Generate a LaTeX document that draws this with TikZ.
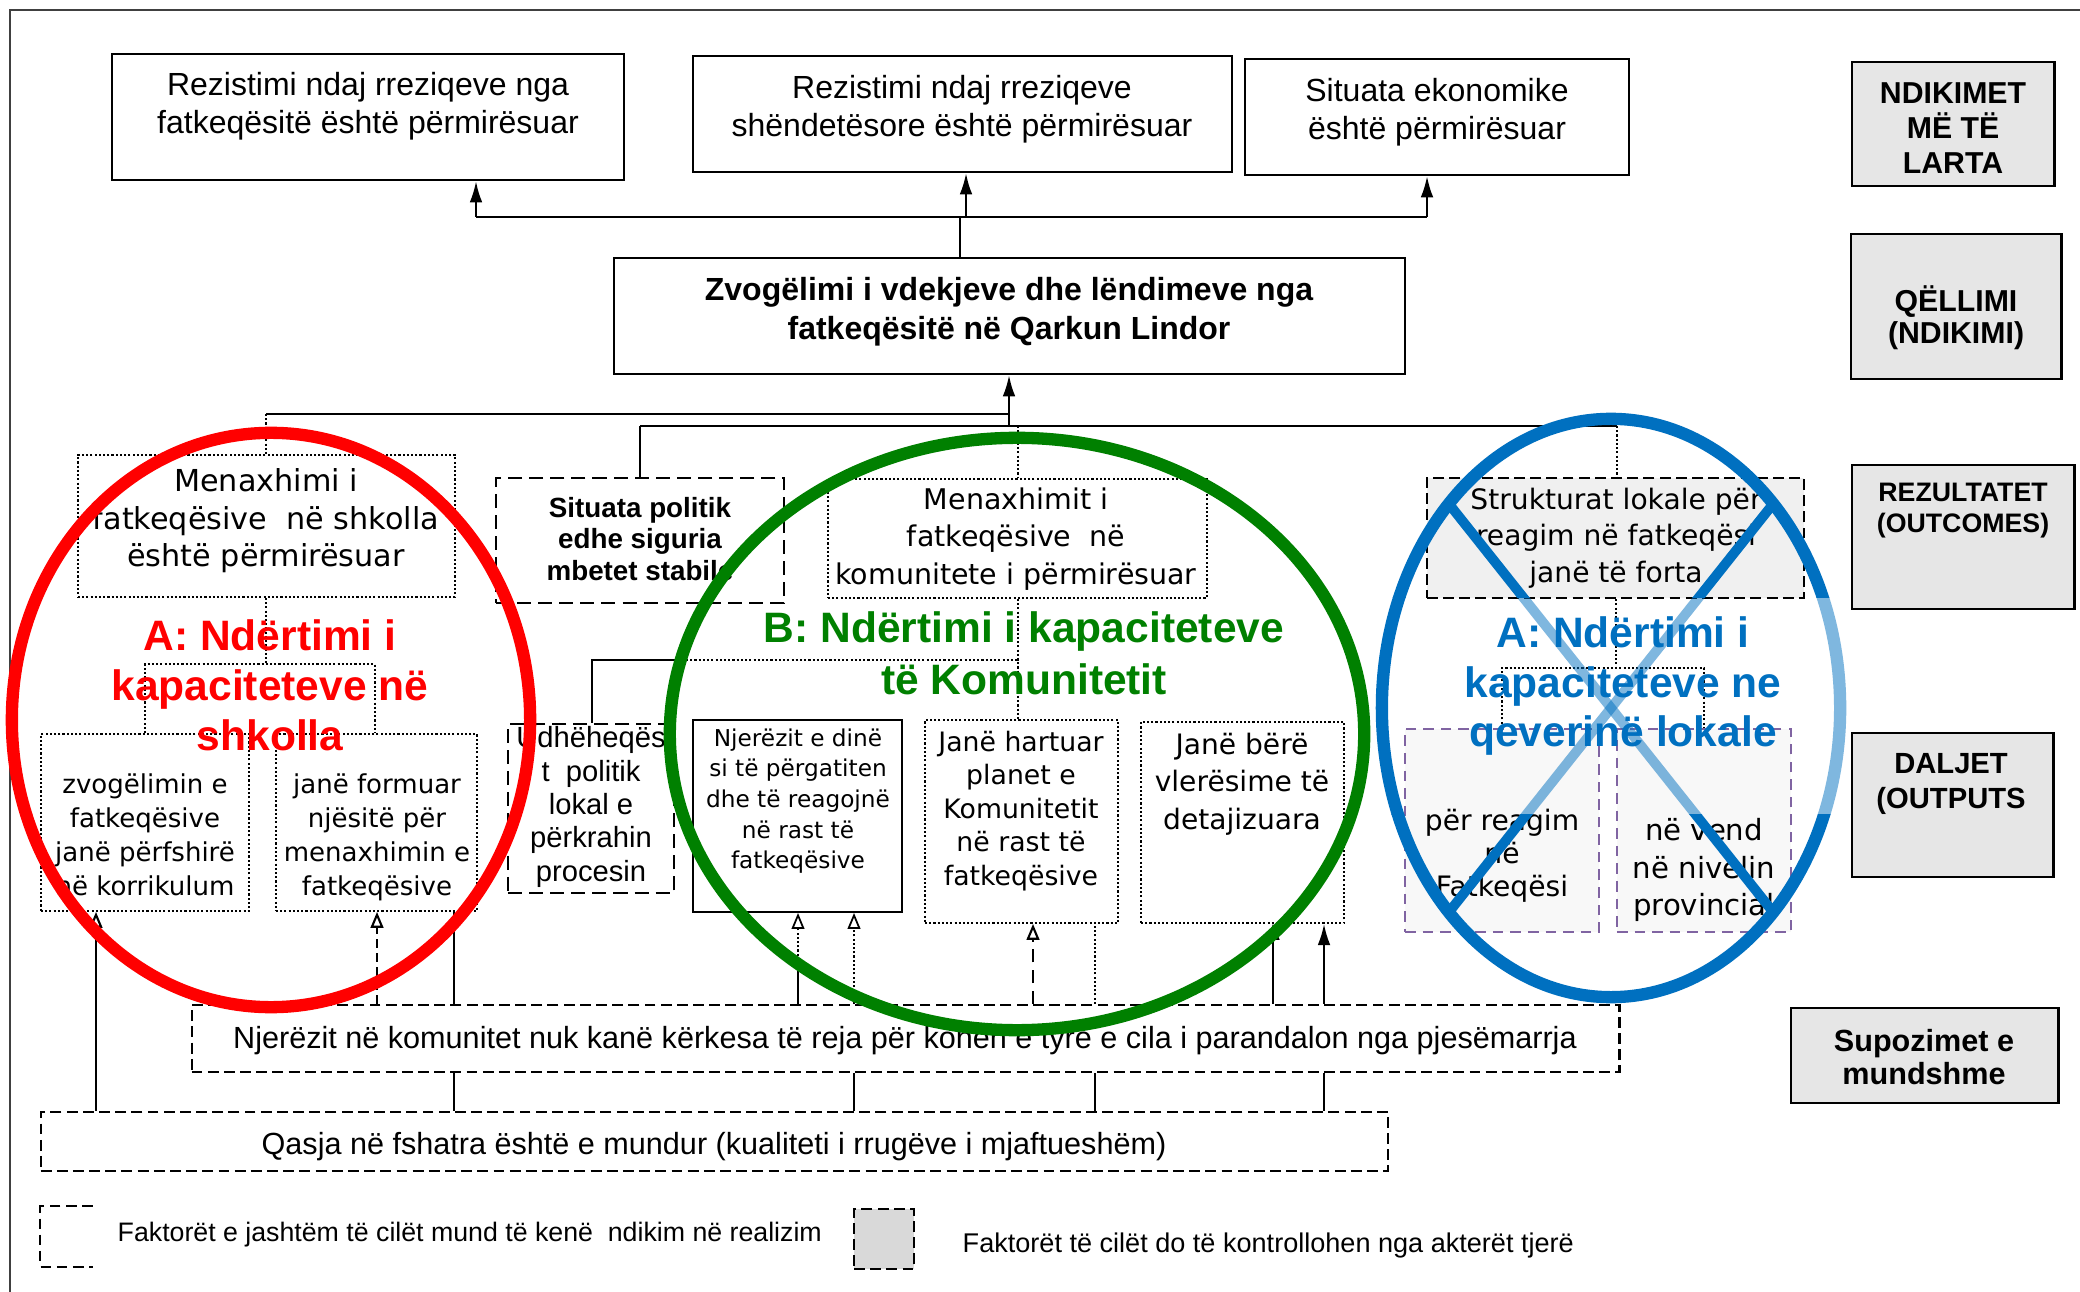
\documentclass[tikz,border=0pt]{standalone}
\usepackage{fontspec}
\setmainfont{Liberation Sans}
\newfontfamily\dvs{DejaVu Sans}
\usetikzlibrary{arrows.meta}
\newcommand\setfs[2]{\fontsize{#1}{#2}\selectfont}
\definecolor{labgray}{HTML}{E6E6E6}
\definecolor{leggray}{HTML}{D9D9D9}
\definecolor{shade}{HTML}{F0F0F0}
\definecolor{ringred}{HTML}{FF0000}
\definecolor{ringgreen}{HTML}{008000}
\definecolor{ringblue}{HTML}{0070C0}
\definecolor{purp}{HTML}{8064A2}
% blue ring with its cross, drawn in pieces so that the middle band can be lighter
\newcommand\drawbluering[1]{%
  \draw[ring, ringblue, #1] (bc) ellipse [x radius=2.29cm, y radius=2.89cm];
  \draw[xline, ringblue, #1] (xul) -- (xlr);
  \draw[xline, ringblue, #1] (xur) -- (xll);}
\begin{document}
\begin{tikzpicture}[x=0.01cm, y=-0.01cm,
  solidbox/.style={draw, line width=0.7pt, inner sep=0pt},
  thinbox/.style={draw, line width=0.5pt, inner sep=0pt},
  dashbox/.style={draw, line width=0.6pt, dash pattern=on 3.1pt off 1.5pt, inner sep=0pt},
  longdashbox/.style={draw, line width=0.6pt, dash pattern=on 4pt off 2pt, inner sep=0pt},
  dotbox/.style={draw, line width=0.5pt, dash pattern=on 0.6pt off 0.6pt, inner sep=0pt},
  levelbox/.style={draw, line width=0.8pt, fill=labgray, inner sep=0pt},
  txt/.style={align=center, inner sep=0pt},
  conn/.style={line width=0.6pt},
  dotconn/.style={line width=0.5pt, dash pattern=on 0.6pt off 0.6pt},
  tipfill/.style={-{Latex[length=6pt,width=3.6pt]}},
  tipopen/.style={-{Triangle[open,length=4.5pt,width=3.6pt]}},
  ring/.style={line width=3.5pt},
  xline/.style={line width=2.8pt},
]
\useasboundingbox (0,0) rectangle (2080,1292);
\fill[white] (0,0) rectangle (2080,1292);

% outer frame
\draw[line width=0.6pt, black!75] (10,1292) -- (10,10) -- (2080,10);

% ---------- higher impacts ----------
\node[solidbox, minimum width=5.12cm, minimum height=1.26cm] (r1) at (368,117) {};
\node[txt, font=\setfs{9.1}{10.8}] (r1t) at (368,106) {Rezistimi ndaj rreziqeve nga\\fatkeqësitë është përmirësuar};
\node[solidbox, minimum width=5.39cm, minimum height=1.16cm] (r2) at (962.5,114) {};
\node[txt, font=\setfs{9.1}{10.8}] (r2t) at (962,109) {Rezistimi ndaj rreziqeve\\shëndetësore është përmirësuar};
\node[solidbox, minimum width=3.84cm, minimum height=1.16cm] (r3) at (1437,117) {};
\node[txt, font=\setfs{9.1}{10.8}] (r3t) at (1437,112) {Situata ekonomike\\është përmirësuar};

% ---------- goal ----------
\node[solidbox, minimum width=7.91cm, minimum height=1.16cm] (g) at (1009.5,316) {};
\node[txt, font=\bfseries\setfs{9.1}{11.1}] (gt) at (1009,312) {Zvogëlimi i vdekjeve dhe lëndimeve nga\\fatkeqësitë në Qarkun Lindor};

\coordinate (jt) at (960,217);
\coordinate (a1) at (476,217);
\coordinate (a2) at (966,217);
\coordinate (a3) at (1427,217);
\draw[conn] (jt |- g.north) -- (jt);
\draw[conn] (a1) -- (a3);
\draw[conn, tipfill] (a1) -- (a1 |- r1.south);
\draw[conn, tipfill] (a2) -- (a2 |- r2.south);
\draw[conn, tipfill] (a3) -- (a3 |- r3.south);

% ---------- level labels ----------
\node[levelbox, minimum width=2.02cm, minimum height=1.24cm] (l1) at (1953,124) {};
\node[txt, font=\bfseries\setfs{8.6}{10}] (l1t) at (1953,128) {NDIKIMET\\MË TË\\LARTA};
\node[levelbox, minimum width=2.10cm, minimum height=1.45cm] (l2) at (1956,306.5) {};
\node[txt, font=\bfseries\setfs{8.6}{9.2}] (l2t) at (1956,318) {QËLLIMI\\(NDIKIMI)};
\node[levelbox, minimum width=2.22cm, minimum height=1.44cm] (l3) at (1963,537) {};
\node[txt, font=\bfseries\setfs{7.6}{8.8}] (l3t) at (1963,511) {REZULTATET\\(OUTCOMES)};
\node[levelbox, minimum width=2.01cm, minimum height=1.44cm] (l4) at (1952.5,805) {};
\node[txt, font=\bfseries\setfs{8.3}{10.2}] (l4t) at (1951,784) {DALJET\\(OUTPUTS};
\node[levelbox, minimum width=2.67cm, minimum height=0.95cm] (l5) at (1924.5,1055.5) {};
\node[txt, font=\bfseries\setfs{8.7}{9.4}] (l5t) at (1924,1057) {Supozimet e\\mundshme};

% ---------- outcomes ----------
\node[dotbox, minimum width=3.77cm, minimum height=1.42cm] (m1) at (266.5,526) {};
\node[txt, font=\dvs\setfs{8.6}{10.7}] (m1t) at (266,521) {Menaxhimi i\\fatkeqësive\ \ në shkolla\\është përmirësuar};
\node[longdashbox, minimum width=2.88cm, minimum height=1.25cm] (sp) at (640,540.5) {};
\node[txt, font=\bfseries\setfs{7.9}{9}] (spt) at (640,539) {Situata politik\\edhe siguria\\mbetet stabile};
\node[dotbox, minimum width=3.79cm, minimum height=1.19cm] (mk) at (1017.5,538.5) {};
\node[txt, font=\dvs\setfs{8.1}{10.7}] (mkt) at (1016,539) {Menaxhimit i\\fatkeqësive\ \ në\\komunitete i përmirësuar};
\node[dashbox, fill=shade, minimum width=3.77cm, minimum height=1.20cm] (st) at (1615.5,538) {};
\node[txt, font=\dvs\setfs{8}{10.4}] (stt) at (1616,538) {Strukturat lokale për\\reagim në fatkeqësi\\janë të forta};

\coordinate (jo) at (1009,426);
\coordinate (u1) at (266,414);
\coordinate (u2) at (1009,414);
\coordinate (w1) at (640,426);
\coordinate (w2) at (1018,426);
\coordinate (w3) at (1617,426);
\draw[conn, tipfill] (jo) -- (jo |- g.south);
\draw[conn] (u1) -- (u2);
\draw[conn] (w1) -- (w3);
\draw[dotconn] (u1) -- (u1 |- m1.north);
\draw[conn] (w1) -- (w1 |- sp.north);
\draw[dotconn] (w2) -- (w2 |- mk.north);
\draw[dotconn] (w3) -- (w3 |- st.north);

% ---------- outputs ----------
\node[dotbox, minimum width=2.08cm, minimum height=1.77cm] (o1) at (145,822.5) {};
\node[txt, font=\dvs\setfs{7.4}{9.7}] (o1t) at (145,835) {zvogëlimin e\\fatkeqësive\\janë përfshirë\\në korrikulum};
\node[dotbox, minimum width=2.01cm, minimum height=1.77cm] (o2) at (376.5,822.5) {};
\node[txt, font=\dvs\setfs{7.4}{9.7}] (o2t) at (377,837) {janë formuar\\njësitë për\\menaxhimin e\\fatkeqësive};
\node[longdashbox, minimum width=1.66cm, minimum height=1.69cm] (ud) at (591,808.5) {};
\node[txt, font=\setfs{8.3}{9.5}] (udt) at (591,807) {Udhëheqës\\t\ \ politik\\lokal e\\përkrahin\\procesin};
\node[thinbox, minimum width=2.09cm, minimum height=1.92cm] (b1) at (797.5,816) {};
\node[txt, font=\dvs\setfs{6.6}{8.7}] (b1t) at (798,801) {Njerëzit e dinë\\si të përgatiten\\dhe të reagojnë\\në rast të\\fatkeqësive};
\node[dotbox, minimum width=1.93cm, minimum height=2.03cm] (b2) at (1021.5,821.5) {};
\node[txt, font=\dvs\setfs{7.6}{9.5}] (b2t) at (1021,811) {Janë hartuar\\planet e\\Komunitetit\\në rast të\\fatkeqësive};
\node[dotbox, minimum width=2.03cm, minimum height=2.01cm] (b3) at (1242.5,822.5) {};
\node[txt, font=\dvs\setfs{8}{10.7}] (b3t) at (1242,784) {Janë bërë\\vlerësime të\\detajizuara};
\node[draw=purp, fill=shade!45, line width=0.6pt, dash pattern=on 3pt off 2pt, inner sep=0pt, minimum width=1.94cm, minimum height=2.03cm] (bl1) at (1502,830.5) {};
\node[txt, font=\dvs\setfs{8}{9.4}] (bl1t) at (1502,856) {për reagim\\në\\Fatkeqësi};
\node[draw=purp, fill=shade!45, line width=0.6pt, dash pattern=on 3pt off 2pt, inner sep=0pt, minimum width=1.74cm, minimum height=2.03cm] (bl2) at (1704,830.5) {};
\node[txt, font=\dvs\setfs{8.3}{10.7}] (bl2t) at (1704,870) {në vend\\në nivelin\\provincial};

% outcome-to-output trees
\coordinate (ta) at (266,664);
\coordinate (tb) at (145,664);
\coordinate (tc) at (375,664);
\draw[dotconn] (m1.south -| ta) -- (ta);
\draw[dotconn] (tb |- o1.north) -- (tb) -- (tc) -- (tc |- o2.north);
\coordinate (tm) at (592,660);
\coordinate (tn) at (686,660);
\coordinate (to) at (1018,660);
\draw[conn] (tm |- ud.north) -- (tm) -- (tn);
\draw[dotconn] (tn) -- (to);
\draw[dotconn] (to |- mk.south) -- (to) -- (to |- b2.north);
\coordinate (tr) at (1616,668);
\coordinate (ts) at (1502,668);
\coordinate (tu) at (1704,668);
\draw[dotconn] (tr |- st.south) -- (tr);
\draw[dotconn] (ts |- bl1.north) -- (ts) -- (tu) -- (tu |- bl2.north);

% ---------- assumptions ----------
\node[dashbox, minimum width=14.27cm, minimum height=0.67cm] (nj) at (905.5,1038.5) {};
\node[txt, font=\setfs{8.7}{10}] (njt) at (905,1041) {Njerëzit në komunitet nuk kanë kërkesa të reja për kohën e tyre e cila i parandalon nga pjesëmarrja};
\node[dashbox, minimum width=13.47cm, minimum height=0.59cm] (qa) at (714.5,1141.5) {};
\node[txt, font=\setfs{8.7}{10}] (qat) at (714,1147) {Qasja në fshatra është e mundur (kualiteti i rrugëve i mjaftueshëm)};

\coordinate (xa) at (96,0);
\coordinate (xb) at (377,0);
\coordinate (xc) at (454,0);
\coordinate (xd) at (798,0);
\coordinate (xdm) at (798,960);
\coordinate (xe) at (854,0);
\coordinate (xf) at (1033,0);
\coordinate (xg) at (1095,0);
\coordinate (xh) at (1273,0);
\coordinate (xi) at (1324,0);
\draw[conn, tipopen] (xa |- qa.north) -- (xa |- o1.south);
\draw[conn, dash pattern=on 2.5pt off 1.5pt, tipopen] (xb |- nj.north) -- (xb |- o2.south);
\draw[conn] (xc |- o2.south) -- (xc |- nj.north);
\draw[conn] (xd |- nj.north) -- (xdm);
\draw[dotconn, tipopen] (xdm) -- (xd |- b1.south);
\draw[dotconn, tipopen] (xe |- nj.north) -- (xe |- b1.south);
\draw[conn, dash pattern=on 3.7pt off 2.2pt, tipopen] (xf |- nj.north) -- (xf |- b2.south);
\draw[dotconn] (xg |- nj.north) -- (xg |- b2.south);
\draw[conn, tipopen] (xh |- nj.north) -- (xh |- b3.south);
\draw[conn, tipfill] (xi |- nj.north) -- (xi |- b3.south);
\foreach \c in {xc,xe,xg,xi}
  \draw[conn] (\c |- nj.south) -- (\c |- qa.north);

% ---------- legend ----------
\node[minimum width=0.51cm, minimum height=0.59cm, inner sep=0pt] (lg1) at (66.5,1236.5) {};
\draw[line width=0.6pt, dash pattern=on 3pt off 1.6pt] (lg1.north east) -- (lg1.north west) -- (lg1.south west) -- (lg1.south east);
\node[txt, anchor=west, font=\setfs{7.6}{9}] (lg1t) at (117,1235) {Faktorët e jashtëm të cilët mund të kenë\ \ ndikim në realizim};
\node[dashbox, fill=leggray, minimum width=0.60cm, minimum height=0.60cm] (lg2) at (884,1239) {};
\node[txt, anchor=west, font=\setfs{7.7}{9}] (lg2t) at (962,1245) {Faktorët të cilët do të kontrollohen nga akterët tjerë};

% ---------- programme rings ----------
\draw[ring, ringred] (271,720) ellipse [x radius=2.59cm, y radius=2.87cm];
\node[txt, text=ringred, font=\bfseries\setfs{12.1}{14.2}] (ra) at (270,685) {A: Ndërtimi i\\kapaciteteve në\\shkolla};

\draw[ring, ringgreen] (1017,734) ellipse [x radius=3.47cm, y radius=2.96cm];
\node[txt, text=ringgreen, font=\bfseries\setfs{12.1}{14.8}] (rb) at (1024,653) {B: Ndërtimi i kapaciteteve\\të Komunitetit};

\node[txt, text=ringblue, font=\bfseries\setfs{12.1}{14}] (rc) at (1623,686) {A: Ndërtimi i\\kapaciteteve ne\\qeverinë lokale};
\coordinate (bc) at (1611,708);
\coordinate (xul) at (1449,504);
\coordinate (xlr) at (1773,912);
\coordinate (xur) at (1773,504);
\coordinate (xll) at (1449,912);
\begin{scope}
  \clip (1300,380) rectangle (1900,598);
  \drawbluering{}
\end{scope}
\begin{scope}
  \clip (1300,814) rectangle (1900,1050);
  \drawbluering{}
\end{scope}
\begin{scope}
  \clip (1300,598) rectangle (1420,814);
  \drawbluering{}
\end{scope}
\begin{scope}
  \clip (1420,598) rectangle (1900,814);
  \drawbluering{opacity=0.5}
\end{scope}
\end{tikzpicture}
\end{document}
